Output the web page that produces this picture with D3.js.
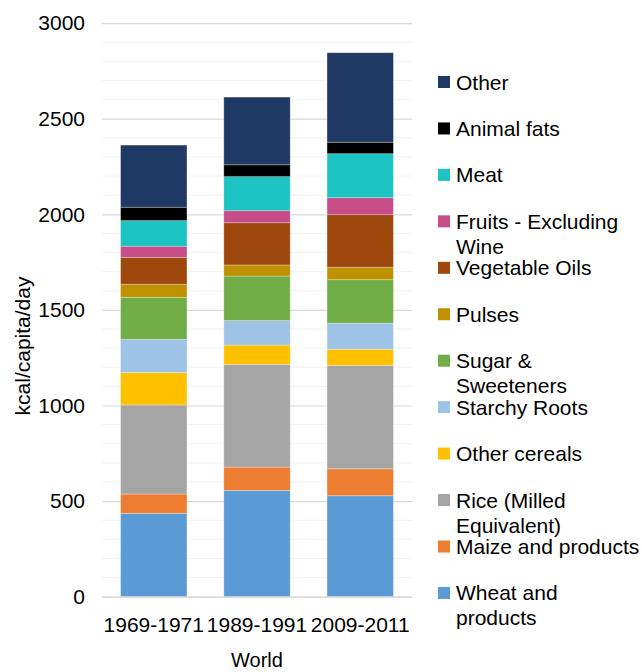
<!DOCTYPE html>
<html>
<head>
<meta charset="utf-8">
<script src="https://cdn.jsdelivr.net/npm/d3@7"></script>
<style>
  html, body { margin: 0; padding: 0; background: #fff; }
  svg { display: block; font-family: "Liberation Sans", Arial, Helvetica, sans-serif; }
</style>
</head>
<body>
<svg id="chart" width="642" height="672"></svg>
<script>
// ---- Data ----
const periods = ["1969-1971", "1989-1991", "2009-2011"];
const seriesNames = ["Wheat and products", "Maize and products", "Rice (Milled Equivalent)",
  "Other cereals", "Starchy Roots", "Sugar & Sweeteners", "Pulses", "Vegetable Oils",
  "Fruits - Excluding Wine", "Meat", "Animal fats", "Other"];
const legendLines = [["Wheat and", "products"], ["Maize and products"], ["Rice (Milled", "Equivalent)"],
  ["Other cereals"], ["Starchy Roots"], ["Sugar &", "Sweeteners"], ["Pulses"], ["Vegetable Oils"],
  ["Fruits - Excluding", "Wine"], ["Meat"], ["Animal fats"], ["Other"]];
const seriesColors = ["#5B9BD5", "#ED7D31", "#A5A5A5", "#FFC000", "#9DC3E6", "#70AD47",
  "#BF9000", "#9E480E", "#C64D88", "#1CC4C4", "#000000", "#203864"];
// kcal/capita/day per series, one value per period
const wheat       = [436, 556, 528];
const maize       = [101, 122, 141];
const rice        = [466, 537, 541];
const otherCereal = [169, 101, 84];
const starchy     = [174, 128, 137];
const sugar       = [220, 233, 227];
const pulses      = [68, 58, 65];
const vegOils     = [141, 221, 275];
const fruits      = [58, 63, 89];
const meat        = [134, 178, 230];
const animalFats  = [70, 62, 60];
const other       = [325, 354, 468];
const seriesValues = [wheat, maize, rice, otherCereal, starchy, sugar, pulses, vegOils, fruits, meat, animalFats, other];
const yTicks = [0, 500, 1000, 1500, 2000, 2500, 3000];
const yTitle = "kcal/capita/day";
const xTitle = "World";

// ---- Layout ----
const svg = d3.select("#chart");
const plot = { left: 102, right: 412, top: 23.1, bottom: 596.7 };

const x = d3.scaleBand().domain(periods).range([plot.left, plot.right]).paddingInner(0.357).paddingOuter(0.18);
const y = d3.scaleLinear().domain([0, 3000]).range([plot.bottom, plot.top]);

// table for stacking
const table = periods.map((p, i) => {
  const row = { period: p };
  seriesNames.forEach((s, j) => row[s] = seriesValues[j][i]);
  return row;
});
const stacked = d3.stack().keys(seriesNames)(table);

// minor grid
const minor = d3.range(100, 3001, 100).filter(v => v % 500 !== 0);
svg.append("g").selectAll("line").data(minor).join("line")
  .attr("x1", plot.left).attr("x2", plot.right)
  .attr("y1", d => y(d)).attr("y2", d => y(d))
  .attr("stroke", "#f2f2f2").attr("stroke-width", 1);

// major grid via axis
const yAxis = svg.append("g")
  .attr("transform", `translate(${plot.left},0)`)
  .call(d3.axisLeft(y).tickValues(yTicks).tickSize(-(plot.right - plot.left)).tickPadding(17).tickFormat(d3.format("d")));
yAxis.select(".domain").remove();
yAxis.selectAll(".tick line").attr("stroke", "#d9d9d9").attr("stroke-width", 1.2);
yAxis.selectAll(".tick text").attr("font-size", "21px").attr("fill", "#000")
  .attr("font-family", '"Liberation Sans", Arial, sans-serif');

// bars
svg.append("g").selectAll("g").data(stacked).join("g")
  .attr("fill", (d, i) => seriesColors[i])
  .selectAll("rect").data(d => d).join("rect")
  .attr("x", d => x(d.data.period))
  .attr("width", x.bandwidth())
  .attr("y", d => y(d[1]))
  .attr("height", d => y(d[0]) - y(d[1]))
  .attr("stroke", "rgba(255,255,255,0.35)").attr("stroke-width", 0.8);

// x axis labels
const xAxis = svg.append("g")
  .attr("transform", `translate(0,${plot.bottom})`)
  .call(d3.axisBottom(x).tickSize(0).tickPadding(20));
xAxis.select(".domain").attr("stroke", "#d9d9d9").attr("stroke-width", 1.2);
xAxis.selectAll(".tick text").attr("font-size", "21px").attr("fill", "#000")
  .attr("font-family", '"Liberation Sans", Arial, sans-serif');

// axis titles
svg.append("text")
  .attr("transform", `translate(30,346) rotate(-90)`)
  .attr("text-anchor", "middle")
  .attr("font-size", "21px").attr("fill", "#000")
  .text(yTitle);
svg.append("text")
  .attr("x", (plot.left + plot.right) / 2).attr("y", 667)
  .attr("text-anchor", "middle")
  .attr("font-size", "20px").attr("fill", "#000")
  .text(xTitle);

// legend (top to bottom: reverse stacking order)
const legendOrder = d3.range(seriesNames.length).reverse();
const legend = svg.append("g");
legendOrder.forEach((si, k) => {
  const cy = 82 + k * 46.45;
  legend.append("rect")
    .attr("x", 438).attr("y", cy - 6).attr("width", 12).attr("height", 12)
    .attr("fill", seriesColors[si]);
  const t = legend.append("text")
    .attr("x", 456).attr("y", cy + 7.5)
    .attr("font-size", "21px").attr("fill", "#000");
  legendLines[si].forEach((line, li) => {
    t.append("tspan").attr("x", 456).attr("dy", li === 0 ? 0 : 25).text(line);
  });
});
</script>
</body>
</html>
